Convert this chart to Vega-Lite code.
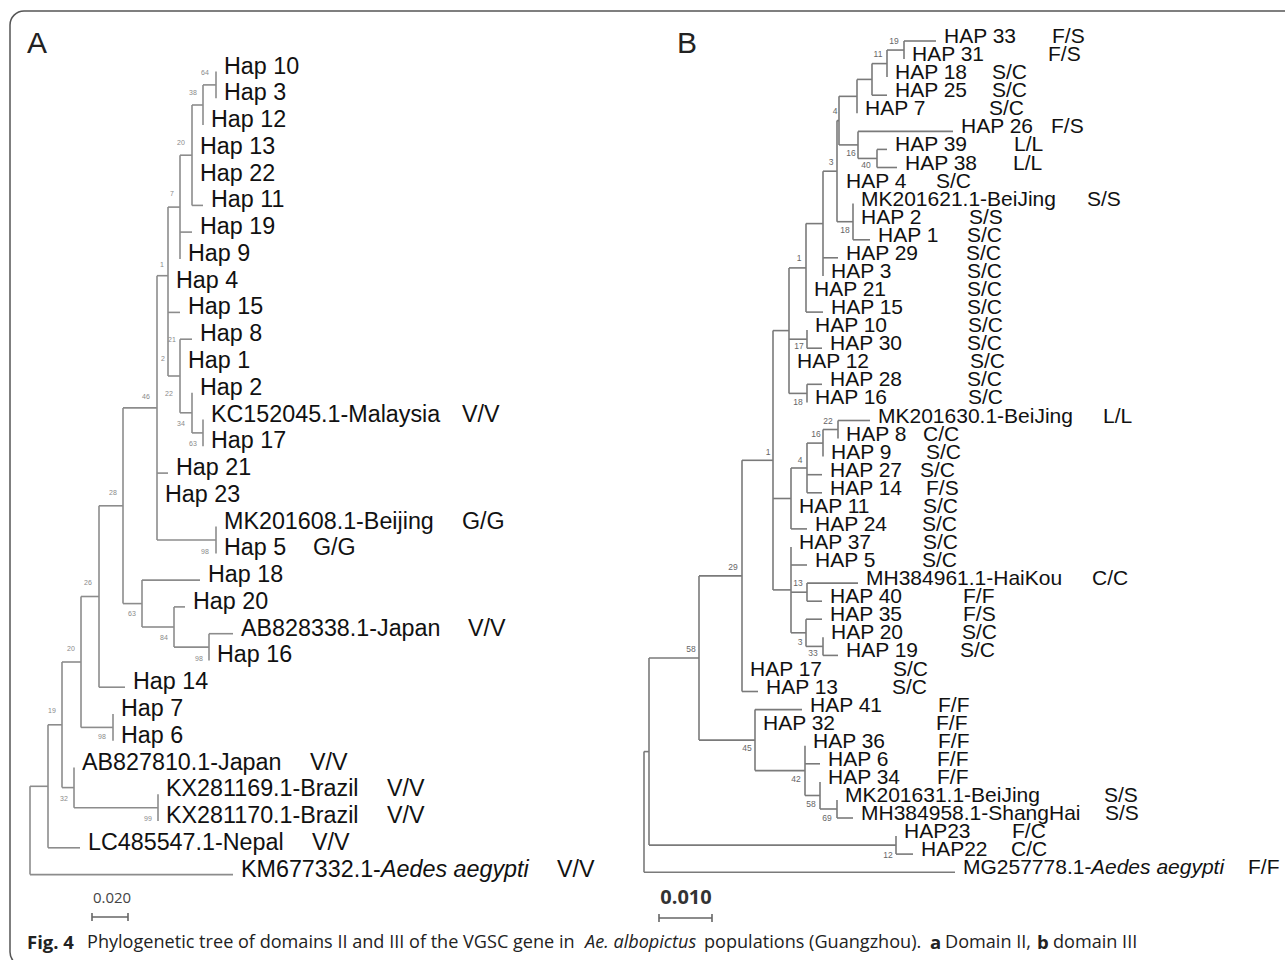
{
"$schema": "https://vega.github.io/schema/vega-lite/v6.json",
"width": 1285, "height": 960, "padding": 0, "autosize": {"type": "none"},
"background": "white",
"config": {"view": {"stroke": null}, "text": {"font": "Liberation Sans"}},
"datasets": {
"frame": [{"x": 10, "x2": 1310, "y": 11, "y2": 966}],
"segH": [
{"p":"A","x":192,"x2":203,"y":205.4},{"p":"A","x":180,"x2":192,"y":232.1},{"p":"A","x":168,"x2":180,"y":312.4},{"p":"A","x":180,"x2":192,"y":339.2},
{"p":"A","x":157,"x2":168,"y":473.1},{"p":"A","x":142,"x2":200,"y":580.1},{"p":"A","x":174,"x2":185,"y":606.9},{"p":"A","x":209,"x2":233,"y":633.7},
{"p":"A","x":99,"x2":125,"y":687.2},{"p":"A","x":48,"x2":80,"y":847.8},{"p":"A","x":30,"x2":233,"y":874.6},{"p":"A","x":203,"x2":216,"y":84.9},
{"p":"A","x":192,"x2":203,"y":105.0},{"p":"A","x":180,"x2":192,"y":155.2},{"p":"A","x":168,"x2":180,"y":207.1},{"p":"A","x":192,"x2":203,"y":432.9},
{"p":"A","x":180,"x2":192,"y":412.8},{"p":"A","x":168,"x2":180,"y":376.0},{"p":"A","x":157,"x2":168,"y":275.7},{"p":"A","x":157,"x2":216,"y":540.0},
{"p":"A","x":123,"x2":157,"y":407.9},{"p":"A","x":174,"x2":209,"y":647.1},{"p":"A","x":142,"x2":174,"y":627.0},{"p":"A","x":123,"x2":142,"y":603.6},
{"p":"A","x":99,"x2":123,"y":505.8},{"p":"A","x":81,"x2":113,"y":727.4},{"p":"A","x":81,"x2":99,"y":596.5},{"p":"A","x":74,"x2":158,"y":807.7},
{"p":"A","x":62,"x2":74,"y":787.6},{"p":"A","x":62,"x2":81,"y":662.0},{"p":"A","x":48,"x2":62,"y":724.8},{"p":"A","x":30,"x2":48,"y":786.3},
{"p":"B","x":904,"x2":936,"y":41.0},{"p":"B","x":872,"x2":887,"y":95.2},{"p":"B","x":858,"x2":953,"y":131.4},{"p":"B","x":877,"x2":887,"y":149.4},
{"p":"B","x":877,"x2":897,"y":167.5},{"p":"B","x":853,"x2":870,"y":239.8},{"p":"B","x":823,"x2":838,"y":257.8},{"p":"B","x":806,"x2":823,"y":312.1},
{"p":"B","x":807,"x2":822,"y":348.2},{"p":"B","x":807,"x2":822,"y":384.3},{"p":"B","x":838,"x2":870,"y":420.5},{"p":"B","x":807,"x2":822,"y":474.7},
{"p":"B","x":807,"x2":822,"y":492.8},{"p":"B","x":791,"x2":807,"y":528.9},{"p":"B","x":791,"x2":807,"y":565.0},{"p":"B","x":807,"x2":858,"y":583.1},
{"p":"B","x":807,"x2":822,"y":601.2},{"p":"B","x":806,"x2":822,"y":619.2},{"p":"B","x":823,"x2":838,"y":655.4},{"p":"B","x":742,"x2":758,"y":691.5},
{"p":"B","x":755,"x2":802,"y":709.6},{"p":"B","x":805,"x2":820,"y":763.8},{"p":"B","x":837,"x2":853,"y":818.0},{"p":"B","x":896,"x2":913,"y":854.1},
{"p":"B","x":644,"x2":955,"y":872.2},
{"p":"B","x":887,"x2":904,"y":50.05},{"p":"B","x":872,"x2":887,"y":63.6},{"p":"B","x":857,"x2":872,"y":79.4},{"p":"B","x":839,"x2":857,"y":96.35},
{"p":"B","x":839,"x2":858,"y":144.9},{"p":"B","x":858,"x2":877,"y":158.45},{"p":"B","x":837,"x2":839,"y":120.6},{"p":"B","x":837,"x2":853,"y":221.7},
{"p":"B","x":823,"x2":837,"y":171.2},{"p":"B","x":806,"x2":823,"y":223.6},{"p":"B","x":789,"x2":806,"y":267.9},{"p":"B","x":789,"x2":807,"y":339.2},
{"p":"B","x":789,"x2":807,"y":393.4},{"p":"B","x":773,"x2":789,"y":330.6},{"p":"B","x":823,"x2":838,"y":429.5},{"p":"B","x":807,"x2":823,"y":443.1},
{"p":"B","x":791,"x2":807,"y":468.0},{"p":"B","x":773,"x2":791,"y":498.5},{"p":"B","x":791,"x2":807,"y":592.2},{"p":"B","x":806,"x2":823,"y":646.4},
{"p":"B","x":791,"x2":806,"y":632.8},{"p":"B","x":773,"x2":791,"y":589.9},{"p":"B","x":742,"x2":773,"y":460.3},{"p":"B","x":699,"x2":742,"y":575.9},
{"p":"B","x":820,"x2":837,"y":809.0},{"p":"B","x":805,"x2":820,"y":795.5},{"p":"B","x":755,"x2":805,"y":770.6},{"p":"B","x":699,"x2":755,"y":740.1},
{"p":"B","x":649,"x2":699,"y":658.0},{"p":"B","x":649,"x2":896,"y":845.1},{"p":"B","x":644,"x2":649,"y":751.6},
{"p":"S","x":92,"x2":128,"y":917},{"p":"S","x":659,"x2":712,"y":918}
],
"segV": [
{"p":"A","x":216,"y":71.5,"y2":98.3},{"p":"A","x":203,"y":84.9,"y2":125.0},{"p":"A","x":192,"y":105.0,"y2":205.4},{"p":"A","x":180,"y":155.2,"y2":258.9},
{"p":"A","x":168,"y":207.1,"y2":376.0},{"p":"A","x":180,"y":339.2,"y2":412.8},{"p":"A","x":192,"y":392.7,"y2":432.9},{"p":"A","x":203,"y":419.5,"y2":446.3},
{"p":"A","x":157,"y":275.7,"y2":540.0},{"p":"A","x":216,"y":526.6,"y2":553.4},{"p":"A","x":123,"y":407.9,"y2":603.6},{"p":"A","x":142,"y":580.1,"y2":627.0},
{"p":"A","x":174,"y":606.9,"y2":647.1},{"p":"A","x":209,"y":633.7,"y2":660.4},{"p":"A","x":99,"y":505.8,"y2":687.2},{"p":"A","x":81,"y":596.5,"y2":727.4},
{"p":"A","x":113,"y":714.0,"y2":740.8},{"p":"A","x":62,"y":662.0,"y2":787.6},{"p":"A","x":74,"y":767.5,"y2":807.7},{"p":"A","x":158,"y":794.3,"y2":821.1},
{"p":"A","x":48,"y":724.8,"y2":847.8},{"p":"A","x":30,"y":786.3,"y2":874.6},
{"p":"B","x":904,"y":41.0,"y2":59.1},{"p":"B","x":887,"y":50.05,"y2":77.1},{"p":"B","x":872,"y":63.6,"y2":95.2},{"p":"B","x":857,"y":79.4,"y2":113.3},
{"p":"B","x":839,"y":96.35,"y2":144.9},{"p":"B","x":858,"y":131.4,"y2":158.45},{"p":"B","x":877,"y":149.4,"y2":167.5},{"p":"B","x":837,"y":120.6,"y2":221.7},
{"p":"B","x":853,"y":203.6,"y2":239.8},{"p":"B","x":823,"y":171.2,"y2":275.9},{"p":"B","x":806,"y":223.6,"y2":312.1},{"p":"B","x":789,"y":267.9,"y2":393.4},
{"p":"B","x":807,"y":330.1,"y2":348.2},{"p":"B","x":807,"y":384.3,"y2":402.4},{"p":"B","x":773,"y":330.6,"y2":589.9},{"p":"B","x":838,"y":420.5,"y2":438.5},
{"p":"B","x":823,"y":429.5,"y2":456.6},{"p":"B","x":807,"y":443.1,"y2":492.8},{"p":"B","x":791,"y":468.0,"y2":528.9},{"p":"B","x":791,"y":547.0,"y2":632.8},
{"p":"B","x":807,"y":583.1,"y2":601.2},{"p":"B","x":806,"y":619.2,"y2":646.4},{"p":"B","x":823,"y":637.3,"y2":655.4},{"p":"B","x":742,"y":460.3,"y2":691.5},
{"p":"B","x":699,"y":575.9,"y2":740.1},{"p":"B","x":755,"y":709.6,"y2":770.6},{"p":"B","x":805,"y":745.7,"y2":795.5},{"p":"B","x":820,"y":781.9,"y2":809.0},
{"p":"B","x":837,"y":799.9,"y2":818.0},{"p":"B","x":649,"y":658.0,"y2":845.1},{"p":"B","x":896,"y":836.1,"y2":854.1},{"p":"B","x":644,"y":751.6,"y2":872.2},
{"p":"S","x":92,"y":913,"y2":921},{"p":"S","x":128,"y":913,"y2":921},{"p":"S","x":659,"y":914,"y2":922},{"p":"S","x":712,"y":914,"y2":922}
],
"leafA": [
{"n":"Hap 10","x":216,"y":71.5},{"n":"Hap 3","x":216,"y":98.3},{"n":"Hap 12","x":203,"y":125.0},{"n":"Hap 13","x":192,"y":151.8},
{"n":"Hap 22","x":192,"y":178.6},{"n":"Hap 11","x":203,"y":205.4},{"n":"Hap 19","x":192,"y":232.1},{"n":"Hap 9","x":180,"y":258.9},
{"n":"Hap 4","x":168,"y":285.7},{"n":"Hap 15","x":180,"y":312.4},{"n":"Hap 8","x":192,"y":339.2},{"n":"Hap 1","x":180,"y":366.0},
{"n":"Hap 2","x":192,"y":392.7},{"n":"KC152045.1-Malaysia","x":203,"y":419.5,"tag":"V/V","tx":462},{"n":"Hap 17","x":203,"y":446.3},
{"n":"Hap 21","x":168,"y":473.1},{"n":"Hap 23","x":157,"y":499.8},{"n":"MK201608.1-Beijing","x":216,"y":526.6,"tag":"G/G","tx":462},
{"n":"Hap 5","x":216,"y":553.4,"tag":"G/G","tx":313},{"n":"Hap 18","x":200,"y":580.1},{"n":"Hap 20","x":185,"y":606.9},
{"n":"AB828338.1-Japan","x":233,"y":633.7,"tag":"V/V","tx":468},{"n":"Hap 16","x":209,"y":660.4},{"n":"Hap 14","x":125,"y":687.2},
{"n":"Hap 7","x":113,"y":714.0},{"n":"Hap 6","x":113,"y":740.8},{"n":"AB827810.1-Japan","x":74,"y":767.5,"tag":"V/V","tx":310},
{"n":"KX281169.1-Brazil","x":158,"y":794.3,"tag":"V/V","tx":387},{"n":"KX281170.1-Brazil","x":158,"y":821.1,"tag":"V/V","tx":387},
{"n":"LC485547.1-Nepal","x":80,"y":847.8,"tag":"V/V","tx":312},{"n":"KM677332.1-","it":"Aedes aegypti","x":233,"y":874.6,"tag":"V/V","tx":557}
],
"leafB": [
{"n":"HAP 33","x":936,"y":41.0,"tag":"F/S","tx":1052},{"n":"HAP 31","x":904,"y":59.1,"tag":"F/S","tx":1048},{"n":"HAP 18","x":887,"y":77.1,"tag":"S/C","tx":992},
{"n":"HAP 25","x":887,"y":95.2,"tag":"S/C","tx":992},{"n":"HAP 7","x":857,"y":113.3,"tag":"S/C","tx":989},{"n":"HAP 26","x":953,"y":131.4,"tag":"F/S","tx":1051},
{"n":"HAP 39","x":887,"y":149.4,"tag":"L/L","tx":1014},{"n":"HAP 38","x":897,"y":167.5,"tag":"L/L","tx":1013},{"n":"HAP 4","x":838,"y":185.6,"tag":"S/C","tx":936},
{"n":"MK201621.1-BeiJing","x":853,"y":203.6,"tag":"S/S","tx":1087},{"n":"HAP 2","x":853,"y":221.7,"tag":"S/S","tx":969},{"n":"HAP 1","x":870,"y":239.8,"tag":"S/C","tx":967},
{"n":"HAP 29","x":838,"y":257.8,"tag":"S/C","tx":966},{"n":"HAP 3","x":823,"y":275.9,"tag":"S/C","tx":967},{"n":"HAP 21","x":806,"y":294.0,"tag":"S/C","tx":967},
{"n":"HAP 15","x":823,"y":312.1,"tag":"S/C","tx":967},{"n":"HAP 10","x":807,"y":330.1,"tag":"S/C","tx":968},{"n":"HAP 30","x":822,"y":348.2,"tag":"S/C","tx":967},
{"n":"HAP 12","x":789,"y":366.3,"tag":"S/C","tx":970},{"n":"HAP 28","x":822,"y":384.3,"tag":"S/C","tx":967},{"n":"HAP 16","x":807,"y":402.4,"tag":"S/C","tx":968},
{"n":"MK201630.1-BeiJing","x":870,"y":420.5,"tag":"L/L","tx":1103},{"n":"HAP 8","x":838,"y":438.5,"tag":"C/C","tx":923},{"n":"HAP 9","x":823,"y":456.6,"tag":"S/C","tx":926},
{"n":"HAP 27","x":822,"y":474.7,"tag":"S/C","tx":920},{"n":"HAP 14","x":822,"y":492.8,"tag":"F/S","tx":926},{"n":"HAP 11","x":791,"y":510.8,"tag":"S/C","tx":923},
{"n":"HAP 24","x":807,"y":528.9,"tag":"S/C","tx":922},{"n":"HAP 37","x":791,"y":547.0,"tag":"S/C","tx":923},{"n":"HAP 5","x":807,"y":565.0,"tag":"S/C","tx":922},
{"n":"MH384961.1-HaiKou","x":858,"y":583.1,"tag":"C/C","tx":1092},{"n":"HAP 40","x":822,"y":601.2,"tag":"F/F","tx":963},{"n":"HAP 35","x":822,"y":619.2,"tag":"F/S","tx":963},
{"n":"HAP 20","x":823,"y":637.3,"tag":"S/C","tx":962},{"n":"HAP 19","x":838,"y":655.4,"tag":"S/C","tx":960},{"n":"HAP 17","x":742,"y":673.5,"tag":"S/C","tx":893},
{"n":"HAP 13","x":758,"y":691.5,"tag":"S/C","tx":892},{"n":"HAP 41","x":802,"y":709.6,"tag":"F/F","tx":938},{"n":"HAP 32","x":755,"y":727.7,"tag":"F/F","tx":936},
{"n":"HAP 36","x":805,"y":745.7,"tag":"F/F","tx":938},{"n":"HAP 6","x":820,"y":763.8,"tag":"F/F","tx":937},{"n":"HAP 34","x":820,"y":781.9,"tag":"F/F","tx":937},
{"n":"MK201631.1-BeiJing","x":837,"y":799.9,"tag":"S/S","tx":1104},{"n":"MH384958.1-ShangHai","x":853,"y":818.0,"tag":"S/S","tx":1105},
{"n":"HAP23","x":896,"y":836.1,"tag":"F/C","tx":1012},{"n":"HAP22","x":913,"y":854.1,"tag":"C/C","tx":1011},
{"n":"MG257778.1-","it":"Aedes aegypti","x":955,"y":872.2,"tag":"F/F","tx":1248}
],
"boot": [
{"p":"A","b":"64","x":205,"y":73},{"p":"A","b":"38","x":193,"y":93},{"p":"A","b":"20","x":181,"y":143},{"p":"A","b":"7","x":172,"y":194},
{"p":"A","b":"1","x":162,"y":265},{"p":"A","b":"21","x":172,"y":340},{"p":"A","b":"2","x":163,"y":359},{"p":"A","b":"22","x":169,"y":394},
{"p":"A","b":"34","x":181,"y":424},{"p":"A","b":"63","x":193,"y":444},{"p":"A","b":"46","x":146,"y":397},{"p":"A","b":"98","x":205,"y":552},
{"p":"A","b":"28","x":113,"y":493},{"p":"A","b":"26","x":88,"y":583},{"p":"A","b":"63","x":132,"y":614},{"p":"A","b":"84","x":164,"y":638},
{"p":"A","b":"98","x":199,"y":659},{"p":"A","b":"20","x":71,"y":649},{"p":"A","b":"98","x":102,"y":737},{"p":"A","b":"19","x":52,"y":711},
{"p":"A","b":"32","x":64,"y":799},{"p":"A","b":"99","x":148,"y":819},
{"p":"B","b":"19","x":894,"y":41},{"p":"B","b":"11","x":878,"y":54},{"p":"B","b":"4","x":835,"y":111},{"p":"B","b":"16","x":851,"y":153},
{"p":"B","b":"40","x":866,"y":165},{"p":"B","b":"3","x":831,"y":162},{"p":"B","b":"18","x":845,"y":230},{"p":"B","b":"1","x":799,"y":258},
{"p":"B","b":"17","x":799,"y":346},{"p":"B","b":"18","x":798,"y":402},{"p":"B","b":"22","x":828,"y":421},{"p":"B","b":"16","x":816,"y":434},
{"p":"B","b":"4","x":800,"y":460},{"p":"B","b":"1","x":768,"y":452},{"p":"B","b":"13","x":798,"y":583},{"p":"B","b":"29","x":733,"y":567},
{"p":"B","b":"3","x":800,"y":642},{"p":"B","b":"33","x":813,"y":653},{"p":"B","b":"58","x":691,"y":649},{"p":"B","b":"45","x":747,"y":748},
{"p":"B","b":"42","x":796,"y":779},{"p":"B","b":"58","x":811,"y":804},{"p":"B","b":"69","x":827,"y":818},{"p":"B","b":"12","x":888,"y":855}
],
"panels": [{"t":"A","x":27,"y":44},{"t":"B","x":677,"y":44}],
"scales": [{"t":"0.020","k":"A","x":112,"y":898},{"t":"0.010","k":"B","x":686,"y":898}],
"caption": [
{"t":"Fig. 4","k":"b","x":27,"y":943},
{"t":"Phylogenetic tree of domains II and III of the VGSC gene in","k":"n","x":87,"y":943},
{"t":"Ae. albopictus","k":"i","x":585,"y":943},
{"t":"populations (Guangzhou).","k":"n","x":704,"y":943},
{"t":"a","k":"b","x":930,"y":943},
{"t":"Domain II,","k":"n","x":945,"y":943},
{"t":"b","k":"b","x":1037,"y":943},
{"t":"domain III","k":"n","x":1053,"y":943}
]
},
"encoding": {
"x": {"field": "x", "type": "quantitative", "scale": {"domain": [0, 1285], "nice": false, "zero": false}, "axis": null},
"y": {"field": "y", "type": "quantitative", "scale": {"domain": [0, 960], "nice": false, "zero": false, "reverse": true}, "axis": null}
},
"layer": [
{"data": {"name": "frame"}, "mark": {"type": "rect", "fill": "white", "fillOpacity": 0, "stroke": "#555555", "strokeWidth": 1.5, "cornerRadius": 14},
 "encoding": {"x2": {"field": "x2"}, "y2": {"field": "y2"}}},
{"data": {"name": "segH"}, "mark": {"type": "rule", "strokeWidth": 1.6},
 "encoding": {"x2": {"field": "x2"}, "color": {"field": "p", "type": "nominal", "scale": {"domain": ["A", "B", "S"], "range": ["#8c8c8c", "#7a7a7a", "#666666"]}, "legend": null}}},
{"data": {"name": "segV"}, "mark": {"type": "rule", "strokeWidth": 1.6},
 "encoding": {"y2": {"field": "y2"}, "color": {"field": "p", "type": "nominal", "scale": {"domain": ["A", "B", "S"], "range": ["#8c8c8c", "#7a7a7a", "#666666"]}, "legend": null}}},
{"data": {"name": "leafA"}, "mark": {"type": "text", "align": "left", "baseline": "middle", "dx": 8, "dy": -5, "fontSize": 23.3, "fill": "#111111"},
 "encoding": {"text": {"field": "n"}}},
{"data": {"name": "leafA"}, "transform": [{"filter": "datum.it"}], "mark": {"type": "text", "align": "left", "baseline": "middle", "dx": 148, "dy": -5, "fontSize": 23.3, "fontStyle": "italic", "fill": "#111111"},
 "encoding": {"text": {"field": "it"}}},
{"data": {"name": "leafA"}, "transform": [{"filter": "datum.tag"}], "mark": {"type": "text", "align": "left", "baseline": "middle", "dy": -5, "fontSize": 23.3, "fill": "#111111"},
 "encoding": {"x": {"field": "tx", "type": "quantitative", "scale": {"domain": [0, 1285], "nice": false, "zero": false}, "axis": null}, "text": {"field": "tag"}}},
{"data": {"name": "leafB"}, "mark": {"type": "text", "align": "left", "baseline": "middle", "dx": 8, "dy": -4, "fontSize": 21, "fill": "#111111"},
 "encoding": {"text": {"field": "n"}}},
{"data": {"name": "leafB"}, "transform": [{"filter": "datum.it"}], "mark": {"type": "text", "align": "left", "baseline": "middle", "dx": 136, "dy": -4, "fontSize": 21, "fontStyle": "italic", "fill": "#111111"},
 "encoding": {"text": {"field": "it"}}},
{"data": {"name": "leafB"}, "transform": [{"filter": "datum.tag"}], "mark": {"type": "text", "align": "left", "baseline": "middle", "dy": -4, "fontSize": 21, "fill": "#111111"},
 "encoding": {"x": {"field": "tx", "type": "quantitative", "scale": {"domain": [0, 1285], "nice": false, "zero": false}, "axis": null}, "text": {"field": "tag"}}},
{"data": {"name": "boot"}, "transform": [{"filter": "datum.p == 'A'"}], "mark": {"type": "text", "align": "center", "baseline": "middle", "fontSize": 7, "fill": "#8a8a8a"},
 "encoding": {"text": {"field": "b"}}},
{"data": {"name": "boot"}, "transform": [{"filter": "datum.p == 'B'"}], "mark": {"type": "text", "align": "center", "baseline": "middle", "fontSize": 8.5, "fill": "#666666"},
 "encoding": {"text": {"field": "b"}}},
{"data": {"name": "panels"}, "mark": {"type": "text", "align": "left", "baseline": "middle", "fontSize": 30, "fill": "#222222"},
 "encoding": {"text": {"field": "t"}}},
{"data": {"name": "scales"}, "transform": [{"filter": "datum.k == 'A'"}], "mark": {"type": "text", "align": "center", "baseline": "middle", "font": "Open Sans", "fontSize": 15, "fill": "#444444"},
 "encoding": {"text": {"field": "t"}}},
{"data": {"name": "scales"}, "transform": [{"filter": "datum.k == 'B'"}], "mark": {"type": "text", "align": "center", "baseline": "middle", "font": "Open Sans", "fontSize": 20, "fontWeight": "bold", "fill": "#333333"},
 "encoding": {"text": {"field": "t"}}},
{"data": {"name": "caption"}, "transform": [{"filter": "datum.k == 'b'"}], "mark": {"type": "text", "align": "left", "baseline": "middle", "font": "Open Sans", "fontSize": 18.5, "fontWeight": "bold", "fill": "#222222"},
 "encoding": {"text": {"field": "t"}}},
{"data": {"name": "caption"}, "transform": [{"filter": "datum.k == 'n'"}], "mark": {"type": "text", "align": "left", "baseline": "middle", "font": "Open Sans", "fontSize": 18.1, "fill": "#222222"},
 "encoding": {"text": {"field": "t"}}},
{"data": {"name": "caption"}, "transform": [{"filter": "datum.k == 'i'"}], "mark": {"type": "text", "align": "left", "baseline": "middle", "font": "Open Sans", "fontSize": 18.1, "fontStyle": "italic", "fill": "#222222"},
 "encoding": {"text": {"field": "t"}}}
]
}
